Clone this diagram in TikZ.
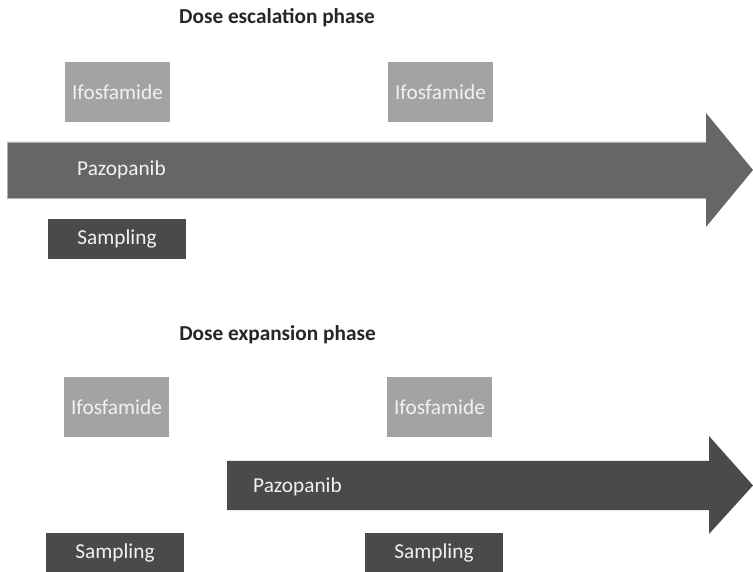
\documentclass[tikz,border=0pt]{standalone}
\usepackage{fontspec}
\setmainfont{Carlito}
\definecolor{ifos}{HTML}{A3A3A3}
\definecolor{arrowA}{HTML}{666666}
\definecolor{darkbox}{HTML}{4A4A4A}
\definecolor{boxtext}{HTML}{F2F2F2}
\begin{document}
\begin{tikzpicture}[x=1pt,y=1pt,
  ifosbox/.style={fill=ifos, draw=none, minimum width=105pt, minimum height=60pt, inner sep=0pt, text=boxtext, font=\fontsize{21.3}{25}\selectfont},
  sampbox/.style={fill=darkbox, draw=none, minimum width=138pt, minimum height=40pt, inner sep=0pt, text=boxtext, font=\fontsize{21.3}{25}\selectfont},
  arrowlabel/.style={anchor=west, inner sep=0pt, text=boxtext, font=\fontsize{21.3}{25}\selectfont},
  phasetitle/.style={inner sep=0pt, text=black!85, font=\bfseries\fontsize{21.3}{25}\selectfont}]
\useasboundingbox (0,0) rectangle (753,571);
% titles
\node[phasetitle] (t1) at (277,553) {Dose escalation phase};
\node[phasetitle] (t2) at (277.5,236) {Dose expansion phase};
% top arrow
\fill[arrowA] (7,429) -- (706,429) -- (706,458) -- (753,401) -- (706,344) -- (706,373) -- (7,373) -- cycle;
\draw[black!30, line width=0.6pt] (7,373) -- (7,429) -- (706,429) (706,373) -- (7,373);
\node[arrowlabel] (p1) at (77,401) {Pazopanib};
% bottom arrow
\fill[darkbox] (227,110) -- (709,110) -- (709,135) -- (753,85.5) -- (709,37) -- (709,61) -- (227,61) -- cycle;
\node[arrowlabel] (p2) at (253,84) {Pazopanib};
% Ifosfamide boxes
\node[ifosbox] (i1) at (117.5,479) {Ifosfamide};
\node[ifosbox] (i2) at (440.5,479) {Ifosfamide};
\node[ifosbox] (i3) at (116.5,164) {Ifosfamide};
\node[ifosbox] (i4) at (439.5,164) {Ifosfamide};
% Sampling boxes
\node[sampbox] (s1) at (117,332) {Sampling};
\node[sampbox] (s2) at (115,18.5) {Sampling};
\node[sampbox] (s3) at (434,18.5) {Sampling};
\end{tikzpicture}
\end{document}
